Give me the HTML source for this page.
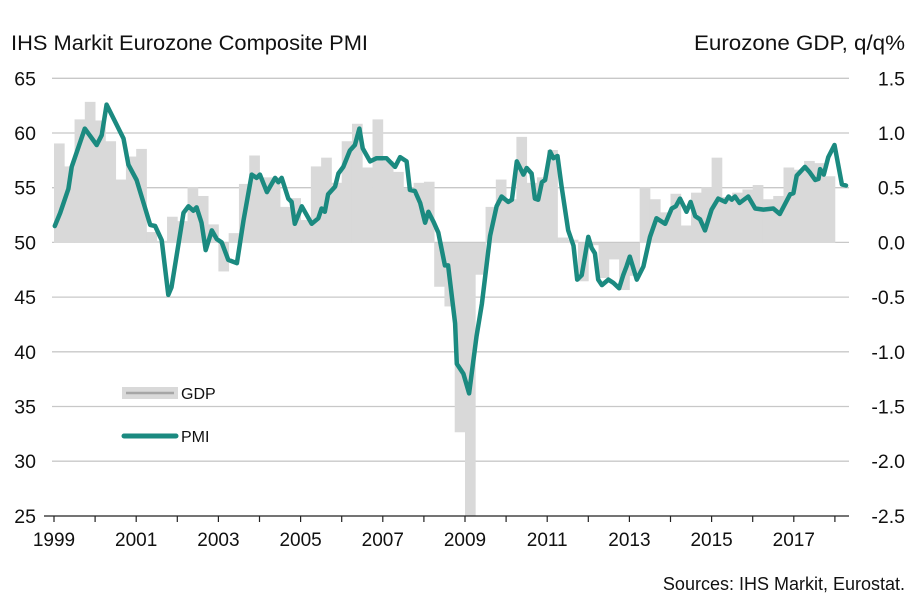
<!DOCTYPE html>
<html><head><meta charset="utf-8"><style>
body{margin:0;background:#fff;font-family:"Liberation Sans",Arial,sans-serif;}
svg text{font-family:"Liberation Sans",Arial,sans-serif;fill:#111;}
</style></head><body>
<svg id="chart" width="924" height="608" viewBox="0 0 924 608" xmlns="http://www.w3.org/2000/svg">
<text x="11" y="50" font-size="21" textLength="357" lengthAdjust="spacingAndGlyphs">IHS Markit Eurozone Composite PMI</text>
<text x="694" y="50" font-size="21" textLength="211" lengthAdjust="spacingAndGlyphs">Eurozone GDP, q/q%</text>
<text x="905" y="590" font-size="18" text-anchor="end">Sources: IHS Markit, Eurostat.</text>
<g id="grid"></g><g id="bars"></g><g id="line"></g><g id="axes"></g>
<g>
<rect x="122" y="387" width="56" height="12" fill="#d9d9d9"/>
<line x1="126" y1="393" x2="174" y2="393" stroke="#a6a6a6" stroke-width="2.5"/>
<text x="181" y="399" font-size="16">GDP</text>
<line x1="124" y1="436" x2="176" y2="436" stroke="#1b8a80" stroke-width="5" stroke-linecap="round"/>
<text x="181" y="442" font-size="16">PMI</text>
</g>
</svg>
<script>
const leftTicks=[65,60,55,50,45,40,35,30,25];
const rightTicks=["1.5","1.0","0.5","0.0","-0.5","-1.0","-1.5","-2.0","-2.5"];
const yearLabels=[1999,2001,2003,2005,2007,2009,2011,2013,2015,2017];
const gdpValues=[0.91,0.70,1.13,1.29,1.12,0.93,0.58,0.79,0.86,0.10,0.02,0.24,0.20,0.51,0.43,0.17,-0.26,0.09,0.54,0.80,0.60,0.60,0.33,0.41,0.21,0.70,0.78,0.55,0.93,1.09,0.69,1.13,0.75,0.65,0.50,0.55,0.56,
-0.40,-0.58,-1.73,-2.55,-0.29,0.33,0.58,0.40,0.97,0.55,0.60,0.85,0.05,0.03,-0.35,-0.02,-0.32,-0.15,-0.43,-0.30,0.51,0.40,0.28,0.45,0.16,0.46,0.51,0.78,0.42,0.46,0.49,0.53,0.40,0.43,0.69,0.67,0.75,0.73,0.61];
const pmiDates=[1999.02,1999.15,1999.35,1999.43,1999.75,2000.04,2000.16,2000.28,2000.69,2000.81,2001.01,2001.34,2001.46,2001.62,2001.78,2001.86,2002.15,2002.27,2002.39,2002.47,2002.59,2002.69,2002.84,2002.96,2003.08,2003.24,2003.45,2003.61,2003.81,2003.93,2004.01,2004.18,2004.38,2004.46,2004.54,2004.70,2004.78,2004.86,2005.03,2005.27,2005.43,2005.51,2005.59,2005.67,2005.84,2005.92,2006.04,2006.20,2006.32,2006.43,2006.51,2006.69,2006.85,2007.09,2007.30,2007.42,2007.58,2007.66,2007.78,2007.91,2008.03,2008.11,2008.23,2008.35,2008.43,2008.51,2008.59,2008.76,2008.80,2008.96,2009.10,2009.28,2009.41,2009.53,2009.61,2009.77,2009.89,2010.05,2010.14,2010.26,2010.42,2010.50,2010.62,2010.70,2010.78,2010.87,2010.95,2011.07,2011.15,2011.25,2011.35,2011.51,2011.64,2011.73,2011.84,2012.00,2012.08,2012.16,2012.24,2012.33,2012.49,2012.61,2012.75,2012.85,2012.93,2013.01,2013.18,2013.34,2013.50,2013.66,2013.87,2014.03,2014.13,2014.23,2014.39,2014.49,2014.60,2014.72,2014.84,2015.00,2015.16,2015.33,2015.41,2015.49,2015.57,2015.68,2015.89,2016.06,2016.26,2016.50,2016.66,2016.91,2016.99,2017.07,2017.27,2017.39,2017.52,2017.60,2017.64,2017.73,2017.84,2017.99,2018.17,2018.27];
const pmiValues=[51.5,52.7,54.9,56.9,60.4,58.9,59.8,62.6,59.5,57.1,55.7,51.6,51.5,50.2,45.2,45.9,52.7,53.3,52.9,53.2,51.8,49.3,51.1,50.3,50.0,48.4,48.1,52.0,56.2,55.9,56.2,54.6,55.9,55.5,55.9,54.0,53.7,51.7,53.3,51.7,52.2,53.1,52.8,54.4,55.1,56.3,56.9,58.4,58.9,60.4,58.6,57.4,57.7,57.7,56.9,57.8,57.4,54.8,54.7,53.6,51.8,52.8,51.9,50.9,49.4,47.9,47.9,42.6,38.9,38.0,36.2,41.4,44.4,48.1,50.6,53.3,54.2,53.7,53.9,57.4,56.2,56.8,56.3,54.0,53.9,55.5,55.7,58.3,57.7,57.9,55.1,51.1,49.7,46.6,47.0,50.5,49.5,49.0,46.6,46.1,46.6,46.3,45.8,47.0,47.8,48.7,46.6,47.8,50.5,52.2,51.7,53.1,53.3,54.0,52.8,53.7,52.4,52.1,51.1,53.0,54.0,53.7,54.2,53.9,54.2,53.6,54.2,53.1,53.0,53.1,52.6,54.4,54.5,56.1,56.9,56.4,55.7,55.8,56.7,56.2,57.8,58.9,55.3,55.2];

const NS="http://www.w3.org/2000/svg";
const X0=54,PX_YR=41.1,PL=52,PR=849;
function xOf(t){return X0+(t-1999)*PX_YR;}
function yL(v){return 78.3+(65-v)*10.94;}
function yR(v){return 243+(0-v)*109.4;}
function mk(tag,attrs,parent){const e=document.createElementNS(NS,tag);for(const k in attrs)e.setAttribute(k,attrs[k]);parent.appendChild(e);return e;}
const grid=document.getElementById('grid'),bars=document.getElementById('bars'),line=document.getElementById('line'),axes=document.getElementById('axes');
leftTicks.forEach((v,i)=>{
  const y=yL(v);
  if(i<leftTicks.length-1){const g=mk('line',{x1:PL,x2:PR,y1:y,y2:y,stroke:'#c8c8c8','stroke-width':1.3},grid);
  
  }
  const t=mk('text',{x:36,y:y+7,'font-size':19.5,'text-anchor':'end'},axes);t.textContent=v;
  
  
  const r=mk('text',{x:905,y:y+7,'font-size':19.5,'text-anchor':'end'},axes);r.textContent=rightTicks[i];
  
  
});
const qw=PX_YR/4;
gdpValues.forEach((v,i)=>{
  const x=xOf(1999+i/4),y0=yR(0),y1=yR(Math.max(v,-2.5));
  const b=mk('rect',{x:x,y:Math.min(y0,y1),width:qw+0.4,height:Math.abs(y1-y0),fill:'#d9d9d9'},bars);
  
  
});
const d=pmiDates.map((t,i)=>(i?'L':'M')+xOf(t).toFixed(1)+','+yL(pmiValues[i]).toFixed(1)).join(' ');
const p=mk('path',{d:d,fill:'none',stroke:'#1b8a80','stroke-width':4.5,'stroke-linejoin':'round','stroke-linecap':'round'},line);


const ax=mk('line',{x1:PL-8,x2:PR,y1:516,y2:516,stroke:'#222','stroke-width':1.2},axes);


for(let yr=1999;yr<=2018;yr++){
  const tk=mk('line',{x1:xOf(yr),x2:xOf(yr),y1:516,y2:522,stroke:'#222','stroke-width':1.2},axes);
  
  
}
yearLabels.forEach(yr=>{
  const t=mk('text',{x:xOf(yr),y:546,'font-size':19,'text-anchor':'middle'},axes);t.textContent=yr;
  
  
});
</script>
</body></html>
